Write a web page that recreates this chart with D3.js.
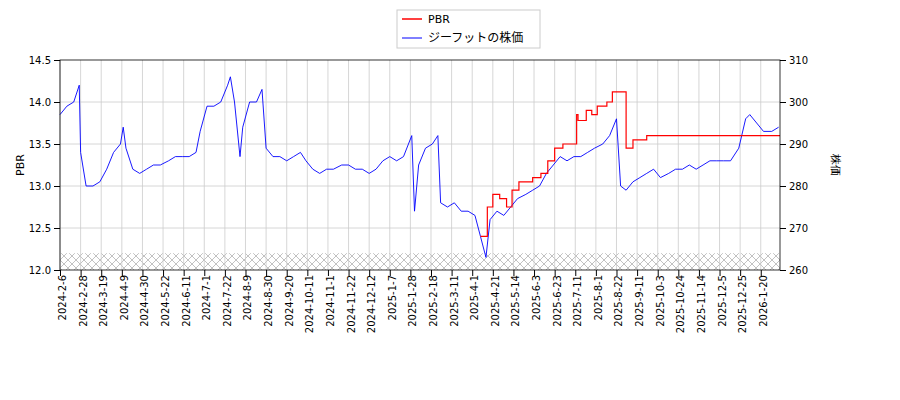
<!DOCTYPE html>
<html><head><meta charset="utf-8">
<script src="https://cdn.jsdelivr.net/npm/d3@7"></script>
<style>body{margin:0;background:#fff}text{font-family:"DejaVu Sans",sans-serif}</style>
</head><body><svg id="c" width="900" height="400"></svg>
<script>
const tickLabels=["2024-2-6","2024-2-28","2024-3-19","2024-4-9","2024-4-30","2024-5-22","2024-6-11","2024-7-1","2024-7-22","2024-8-9","2024-8-30","2024-9-20","2024-10-11","2024-11-1","2024-11-22","2024-12-12","2025-1-7","2025-1-28","2025-2-18","2025-3-11","2025-4-1","2025-4-21","2025-5-14","2025-6-3","2025-6-23","2025-7-11","2025-8-1","2025-8-22","2025-9-11","2025-10-3","2025-10-24","2025-11-14","2025-12-5","2025-12-25","2026-1-20"];
const priceIdx=[0,5,10,14,15,19,24,29,34,39,44,46,48,53,58,63,68,73,79,84,89,94,99,102,107,112,117,122,124,127,131,133,138,143,147,150,155,160,165,170,175,179,184,189,194,199,205,210,215,220,225,230,235,240,245,250,256,258,261,266,271,275,277,282,287,292,297,302,306,310,313,318,323,328,333,339,344,349,354,359,364,369,374,379,384,389,395,400,405,408,412,417,422,427,432,437,443,448,453,458,463,468,473,478,483,488,494,499,502,507,512,518,523];
const price=[297,299,300,304,288,280,280,281,284,288,290,294,289,284,283,284,285,285,286,287,287,287,288,293,299,299,300,304,306,300,287,294,300,300,303,289,287,287,286,287,288,286,284,283,284,284,285,285,284,284,283,284,286,287,286,287,292,274,285,289,290,292,276,275,276,274,274,273,268,263,272,274,273,275,277,278,279,280,283,285,287,286,287,287,288,289,290,292,296,280,279,281,282,283,284,282,283,284,284,285,284,285,286,286,286,286,289,296,297,295,293,293,294];
const pbrIdx=[306,311,315,320,325,329,334,344,350,355,360,366,376,377,383,387,391,398,402,412,417,427,524];
const pbr=[12.4,12.75,12.9,12.85,12.75,12.95,13.05,13.1,13.15,13.3,13.45,13.5,13.85,13.78,13.9,13.85,13.95,14.0,14.12,13.45,13.55,13.6,13.6];
const svg=d3.select("#c"),L=60,R=780,T=60,B=270;
const x=d3.scaleLinear().domain([0,524]).range([L,R]);
const yl=d3.scaleLinear().domain([12,14.5]).range([B,T]);
const yr=d3.scaleLinear().domain([260,310]).range([B,T]);
const defs=svg.append("defs");
const p=defs.append("pattern").attr("id","h").attr("width",8).attr("height",8).attr("patternUnits","userSpaceOnUse");
p.append("path").attr("d","M0,0L8,8M8,0L0,8").attr("stroke","#999").attr("stroke-width",0.6);
svg.append("rect").attr("x",L).attr("y",yl(12.2)).attr("width",R-L).attr("height",B-yl(12.2)).attr("fill","url(#h)");
const tickIdx=tickLabels.map((d,i)=>i*15);
svg.append("g").selectAll("line").data(tickIdx).join("line").attr("x1",d=>x(d)).attr("x2",d=>x(d)).attr("y1",T).attr("y2",B).attr("stroke","#ccc").attr("stroke-width",0.8);
svg.append("g").selectAll("line").data([12.5,13,13.5,14]).join("line").attr("x1",L).attr("x2",R).attr("y1",d=>yl(d)).attr("y2",d=>yl(d)).attr("stroke","#ccc").attr("stroke-width",0.8);
svg.append("path").datum(price.map((v,i)=>[priceIdx[i],v])).attr("fill","none").attr("stroke","blue").attr("stroke-width",0.9).attr("d",d3.line().x(d=>x(d[0])).y(d=>yr(d[1])));
svg.append("path").datum(pbr.map((v,i)=>[pbrIdx[i],v])).attr("fill","none").attr("stroke","red").attr("stroke-width",1.2).attr("d",d3.line().curve(d3.curveStepAfter).x(d=>x(d[0])).y(d=>yl(d[1])));
svg.append("rect").attr("x",L).attr("y",T).attr("width",R-L).attr("height",B-T).attr("fill","none").attr("stroke","#000").attr("stroke-width",0.8);
const ax=svg.append("g").attr("transform",`translate(0,${B})`).call(d3.axisBottom(x).tickValues(tickIdx).tickFormat((d,i)=>tickLabels[i]).tickSizeOuter(0));
ax.selectAll("text").attr("transform","rotate(-90)").attr("text-anchor","end").attr("dx","-0.5em").attr("dy","-0.35em").style("font-size","10px");
ax.select(".domain").remove();
const al=svg.append("g").attr("transform",`translate(${L},0)`).call(d3.axisLeft(yl).tickValues([12,12.5,13,13.5,14,14.5]).tickFormat(d3.format(".1f")).tickSizeOuter(0));
al.selectAll("text").style("font-size","10px");al.select(".domain").remove();
const ar=svg.append("g").attr("transform",`translate(${R},0)`).call(d3.axisRight(yr).tickValues([260,270,280,290,300,310]).tickSizeOuter(0));
ar.selectAll("text").style("font-size","10px");ar.select(".domain").remove();
svg.append("text").attr("transform",`translate(24,165) rotate(-90)`).attr("text-anchor","middle").style("font-size","11px").text("PBR");
svg.append("text").attr("transform",`translate(832,165) rotate(90)`).attr("text-anchor","middle").style("font-size","11px").text("株価");
const lg=svg.append("g");
lg.append("rect").attr("x",397).attr("y",10).attr("width",143).attr("height",38).attr("fill","#fff").attr("stroke","#ccc");
lg.append("line").attr("x1",402).attr("x2",422).attr("y1",19).attr("y2",19).attr("stroke","red").attr("stroke-width",1.5);
lg.append("line").attr("x1",402).attr("x2",422).attr("y1",38).attr("y2",38).attr("stroke","blue");
lg.append("text").attr("x",428).attr("y",23).style("font-size","11px").text("PBR");
lg.append("text").attr("x",428).attr("y",42).style("font-size","12px").style("font-family","Noto Sans CJK JP").text("ジーフットの株価");
</script></body></html>
